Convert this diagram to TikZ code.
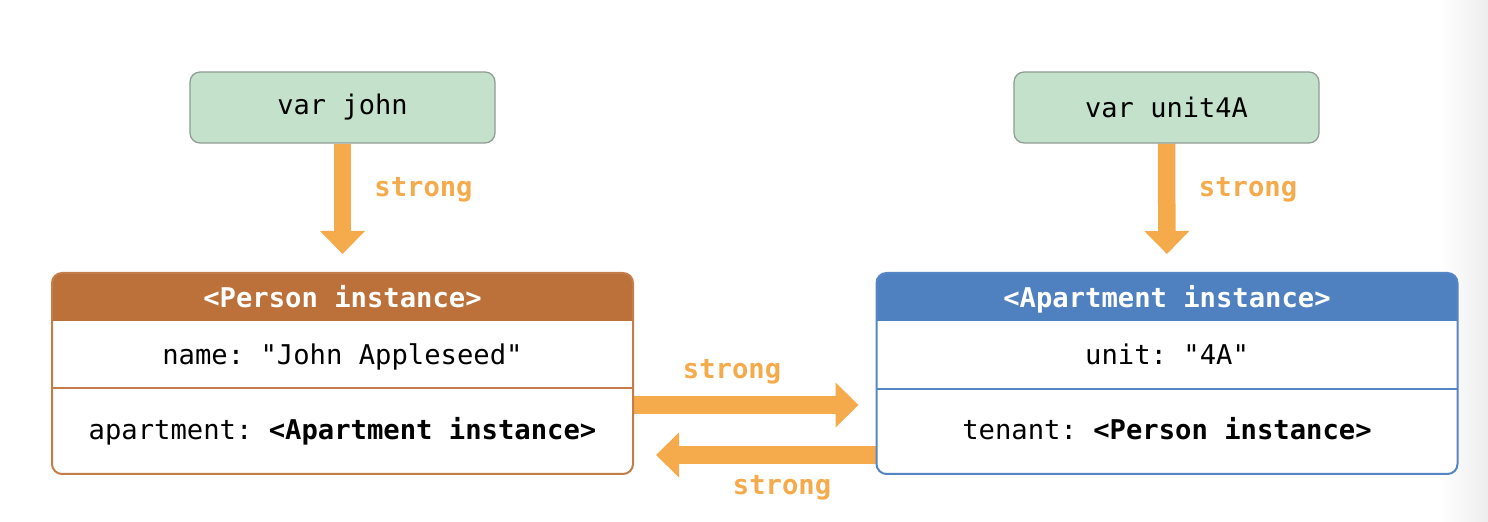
\documentclass[tikz,border=0pt]{standalone}
\usepackage{fontspec}
\setmonofont{DejaVu Sans Mono}
\usetikzlibrary{arrows.meta,backgrounds}
\definecolor{arrowc}{HTML}{F5AB4C}
\definecolor{personc}{HTML}{BD713A}
\definecolor{personb}{HTML}{C47C48}
\definecolor{aptc}{HTML}{4F80BF}
\definecolor{aptb}{HTML}{5685C5}
\definecolor{varfill}{HTML}{C4E2CB}
\definecolor{varborder}{HTML}{8E9A92}
\tikzset{
  varbox/.style={draw=varborder, fill=varfill, line width=0.6pt, rounded corners=5pt,
    minimum width=152.5pt, minimum height=35.5pt, inner sep=0pt,
    font=\ttfamily\fontsize{13.5}{16}\selectfont, text=black},
  objbox/.style={line width=1pt, rounded corners=5pt, fill=white,
    minimum width=290.5pt, minimum height=100.5pt, inner sep=0pt},
  hdrtext/.style={font=\ttfamily\bfseries\fontsize{13.6}{16}\selectfont, text=white, anchor=base, inner sep=0pt},
  rowtext/.style={font=\ttfamily\fontsize{13.6}{16}\selectfont, text=black, anchor=base, inner sep=0pt},
  strongl/.style={font=\ttfamily\bfseries\fontsize{13.6}{16}\selectfont, text=arrowc, anchor=base, inner sep=0pt},
  bigarrow/.style={draw=arrowc, line width=8.75pt,
    -{Triangle[width=22.5pt,length=11.5pt,line width=0pt]}},
}
\begin{document}
\begin{tikzpicture}[x=0.5pt,y=-0.5pt]
\useasboundingbox (0,0) rectangle (1488,522);
\shade[left color=white, right color=black!7] (1440,0) rectangle (1488,522);

\node[varbox] (john) at (342.5,107.5) {var john};
\node[varbox] (unit) at (1166.5,107.5) {var unit4A};

\node[objbox, draw=personb,
  path picture={
    \fill[personc, sharp corners] (path picture bounding box.north west) rectangle ([yshift=-24pt]path picture bounding box.north east);
    \draw[personb, line width=0.7pt, sharp corners] ([yshift=-57.5pt]path picture bounding box.north west) -- ([yshift=-57.5pt]path picture bounding box.north east);
  }] (person) at (342.5,373.5) {};
\node[objbox, draw=aptb,
  path picture={
    \fill[aptc, sharp corners] (path picture bounding box.north west) rectangle ([yshift=-24pt]path picture bounding box.north east);
    \draw[aptb, line width=0.7pt, sharp corners] ([yshift=-58pt]path picture bounding box.north west) -- ([yshift=-58pt]path picture bounding box.north east);
  }] (apt) at (1167,373.5) {};

\node[hdrtext] (ptitle) at (342.5,308) {<Person instance>};
\node[rowtext] (pname) at (342.5,365) {name: "John Appleseed"};
\node[rowtext] (papt) at (342.5,440) {apartment: \textbf{<Apartment instance>}};

\node[hdrtext] (atitle) at (1167,308) {<Apartment instance>};
\node[rowtext] (aunit) at (1167,365) {unit: "4A"};
\node[rowtext] (aten) at (1167,440) {tenant: \textbf{<Person instance>}};

\coordinate (r1) at (0,405);
\coordinate (r2) at (0,455);
\begin{scope}[on background layer]
\draw[bigarrow, shorten >=9pt] (john.south) -- (person.north);
\draw[bigarrow, shorten >=9pt] (unit.south) -- (apt.north);
\draw[bigarrow, shorten >=8.5pt] (person.east |- r1) -- (apt.west |- r1);
\draw[bigarrow, shorten >=11pt] (apt.west |- r2) -- (person.east |- r2);
\end{scope}

\node[strongl] (s1) at (423.5,197) {strong};
\node[strongl] (s2) at (1248,197) {strong};
\node[strongl] (s3) at (732,379) {strong};
\node[strongl] (s4) at (782,495) {strong};
\end{tikzpicture}
\end{document}
